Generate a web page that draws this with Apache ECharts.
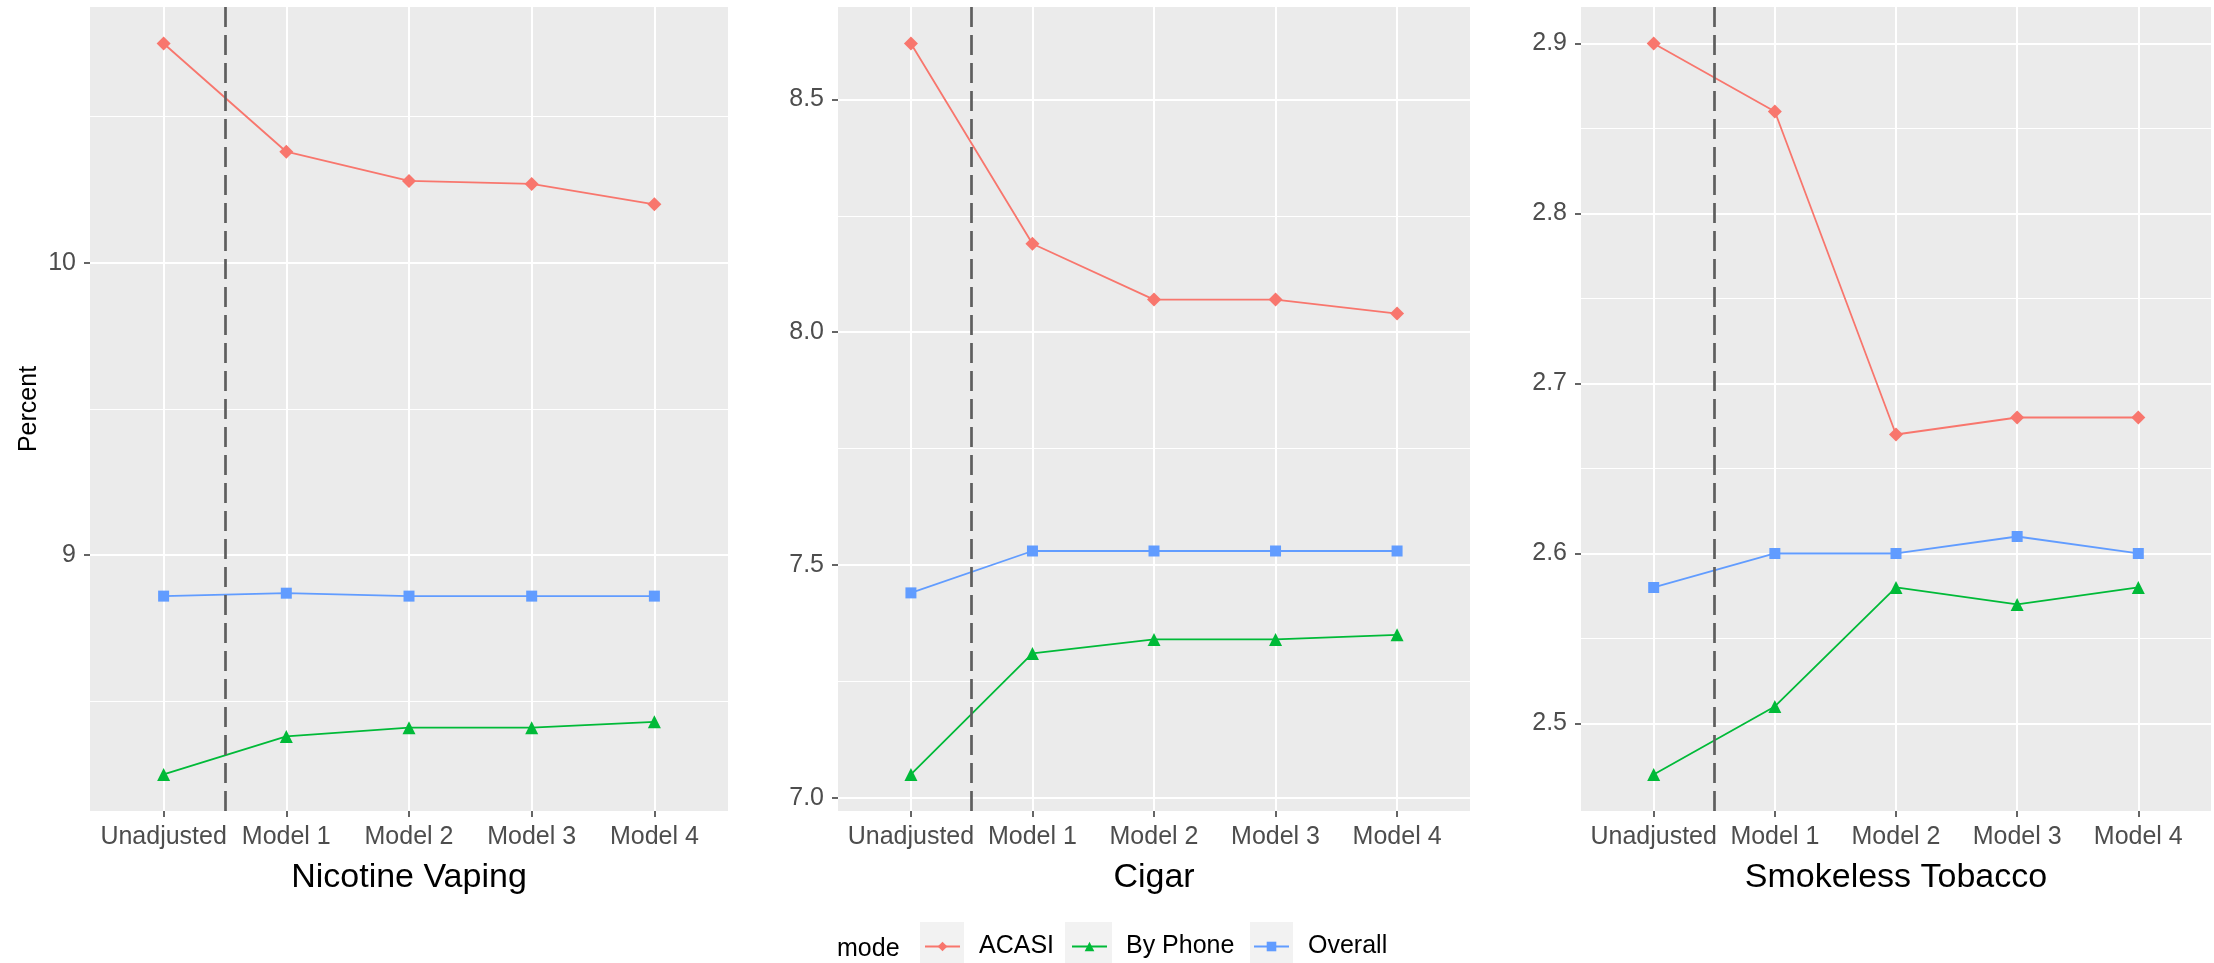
<!doctype html>
<html>
<head>
<meta charset="utf-8">
<title>Mode comparison</title>
<script src="https://cdn.jsdelivr.net/npm/echarts@6/dist/echarts.min.js"></script>
<style>
  html, body { margin: 0; padding: 0; background: #fff; }
  #chart { width: 2214px; height: 963px; }
</style>
</head>
<body>
<div id="chart"></div>
<script>
// data
var categories = ['Unadjusted', 'Model 1', 'Model 2', 'Model 3', 'Model 4'];
var modes = ['ACASI', 'By Phone', 'Overall'];

var vapingAcasi   = [10.75, 10.38, 10.28, 10.27, 10.20];
var vapingPhone   = [8.25, 8.38, 8.41, 8.41, 8.43];
var vapingOverall = [8.86, 8.87, 8.86, 8.86, 8.86];

var cigarAcasi    = [8.62, 8.19, 8.07, 8.07, 8.04];
var cigarPhone    = [7.05, 7.31, 7.34, 7.34, 7.35];
var cigarOverall  = [7.44, 7.53, 7.53, 7.53, 7.53];

var smokelessAcasi   = [2.90, 2.86, 2.67, 2.68, 2.68];
var smokelessPhone   = [2.47, 2.51, 2.58, 2.57, 2.58];
var smokelessOverall = [2.58, 2.60, 2.60, 2.61, 2.60];

var panelTitles = ['Nicotine Vaping', 'Cigar', 'Smokeless Tobacco'];
var vapingMajor = [9, 10],        vapingMinor = [8.5, 9.5, 10.5];
var cigarMajor = [7.0, 7.5, 8.0, 8.5], cigarMinor = [7.25, 7.75, 8.25];
var smokelessMajor = [2.5, 2.6, 2.7, 2.8, 2.9], smokelessMinor = [2.55, 2.65, 2.75, 2.85];
var labelDigits = [0, 1, 1];
var cutoff = 0.5; // dashed line between Unadjusted and Model 1

var panelSeries = [
  [vapingAcasi, vapingPhone, vapingOverall],
  [cigarAcasi, cigarPhone, cigarOverall],
  [smokelessAcasi, smokelessPhone, smokelessOverall]
];
var panelMajor = [vapingMajor, cigarMajor, smokelessMajor];
var panelMinor = [vapingMinor, cigarMinor, smokelessMinor];

// layout / style
var FONT = 'Liberation Sans, Arial, sans-serif';
var colors = ['#F8766D', '#00BA38', '#619CFF'];
var symbols = ['diamond', 'triangle', 'rect'];
var symbolSizes = [14, 13, 11];
var gridBoxes = [[90, 638], [838, 632], [1581, 630]];
var xIdx = categories.map(function (c, j) { return j; });

var grids = [], xAxes = [], yAxes = [], series = [];

panelSeries.forEach(function (list, i) {
  var all = [].concat(list[0], list[1], list[2]);
  var lo = Math.min.apply(null, all), hi = Math.max.apply(null, all);
  var pad = (hi - lo) * 0.05;
  var ymin = lo - pad, ymax = hi + pad;

  grids.push({
    left: gridBoxes[i][0], width: gridBoxes[i][1], top: 7, height: 804,
    show: true, backgroundColor: '#EBEBEB', borderWidth: 0
  });

  xAxes.push({
    type: 'value', gridIndex: i, min: -0.6, max: 4.6,
    axisLine: { show: false, onZero: false },
    axisTick: { show: true, customValues: xIdx, length: 6, lineStyle: { color: '#333', width: 1.5 } },
    axisLabel: {
      customValues: xIdx, margin: 14, color: '#4D4D4D', fontSize: 25, fontFamily: FONT,
      formatter: function (v) { return categories[Math.round(v)]; }
    },
    splitLine: { show: true, lineStyle: { color: '#fff', width: 2 } },
    name: panelTitles[i], nameLocation: 'middle', nameGap: 50,
    nameTextStyle: { fontSize: 34, color: '#000', fontFamily: FONT }
  });

  yAxes.push({
    type: 'value', gridIndex: i, min: ymin, max: ymax,
    axisLine: { show: false, onZero: false },
    axisTick: { show: true, customValues: panelMajor[i], length: 6, lineStyle: { color: '#333', width: 1.5 } },
    axisLabel: {
      customValues: panelMajor[i], margin: 14, color: '#4D4D4D', fontSize: 25, fontFamily: FONT,
      formatter: (function (d) { return function (v) { return v.toFixed(d); }; })(labelDigits[i])
    },
    splitLine: { show: true, lineStyle: { color: '#fff', width: 2 } },
    name: i === 0 ? 'Percent' : '', nameLocation: 'middle', nameGap: 48,
    nameTextStyle: { fontSize: 25, color: '#000', fontFamily: FONT }
  });
  // minor grid lines
  yAxes.push({
    type: 'value', gridIndex: i, min: ymin, max: ymax, position: 'left',
    axisLine: { show: false, onZero: false },
    axisTick: { show: false, customValues: panelMinor[i] },
    axisLabel: { show: false },
    splitLine: { show: true, lineStyle: { color: '#fff', width: 1 } }
  });

  list.forEach(function (vals, k) {
    var s = {
      name: modes[k], type: 'line', xAxisIndex: i, yAxisIndex: i * 2,
      data: vals.map(function (v, j) { return [j, v]; }),
      symbol: symbols[k], symbolSize: symbolSizes[k], showSymbol: true,
      itemStyle: { color: colors[k] },
      lineStyle: { color: colors[k], width: 1.8 },
      z: 3
    };
    if (k === 0) {
      s.markLine = {
        silent: true, symbol: ['none', 'none'], label: { show: false },
        lineStyle: { color: '#5E5E5E', type: [20, 8], width: 2.7 },
        data: [{ xAxis: cutoff }]
      };
    }
    series.push(s);
  });
});

var legendLefts = [924, 1071, 1253];
var legends = modes.map(function (m, k) {
  return {
    data: [m], left: legendLefts[k], top: 934, padding: 0,
    itemWidth: 35, itemHeight: 12, selectedMode: false,
    textStyle: { fontSize: 25, color: '#000', fontFamily: FONT, padding: [0, 0, 0, 14] }
  };
});

var keyBoxes = [[920, 44], [1065, 47], [1250, 43]];
var graphics = keyBoxes.map(function (b) {
  return { type: 'rect', left: b[0], top: 922, z: -1, shape: { width: b[1], height: 41 }, style: { fill: '#F2F2F2' } };
});
graphics.push({
  type: 'text', left: 837, top: 937,
  style: { text: 'mode', font: '25px ' + FONT, fill: '#000' }
});

var myChart = echarts.init(document.getElementById('chart'));
myChart.setOption({
  animation: false,
  grid: grids,
  xAxis: xAxes,
  yAxis: yAxes,
  legend: legends,
  graphic: graphics,
  series: series
});
</script>
</body>
</html>
